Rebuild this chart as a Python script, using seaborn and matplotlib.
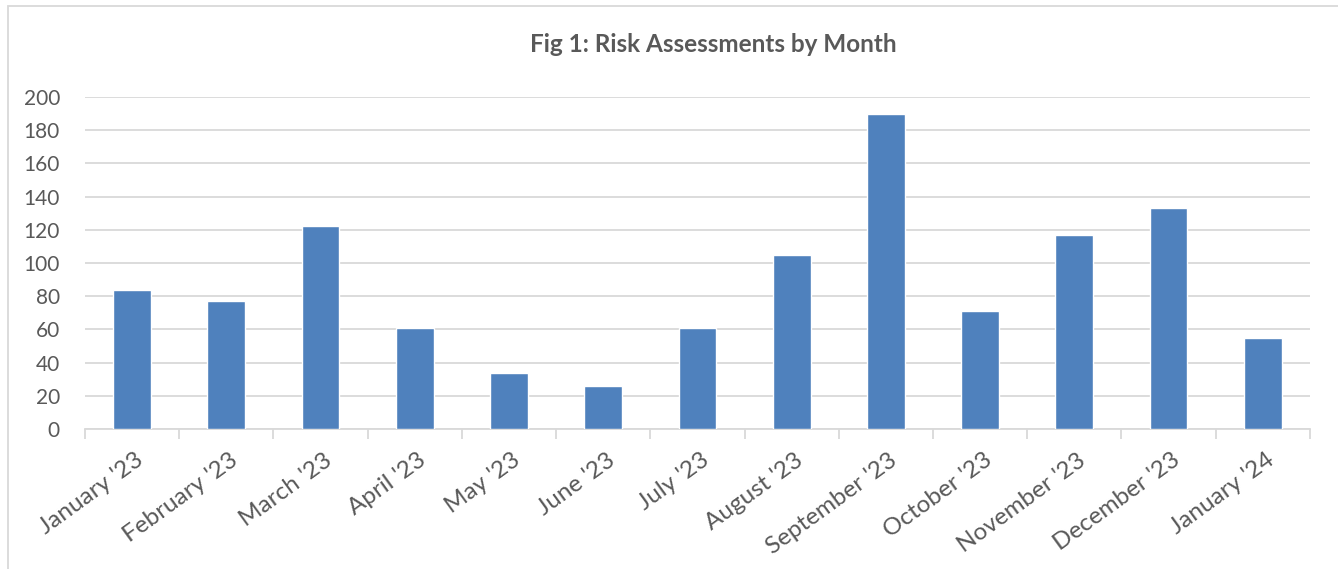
import matplotlib
matplotlib.use("Agg")
import matplotlib.pyplot as plt
import matplotlib.transforms as mtransforms
from matplotlib.patches import Rectangle
import seaborn as sns
import pandas as pd

# data
months = ["January '23", "February '23", "March '23", "April '23", "May '23",
          "June '23", "July '23", "August '23", "September '23", "October '23",
          "November '23", "December '23", "January '24"]
assessments = [84, 77, 122, 61, 34, 26, 61, 105, 190, 71, 117, 133, 55]
y_ticks = [0, 20, 40, 60, 80, 100, 120, 140, 160, 180, 200]

df = pd.DataFrame({"month": months, "assessments": assessments})

sns.set_theme(style="white")
plt.rcParams["font.family"] = ["Lato", "DejaVu Sans"]

text_col = "#595959"
grid_col = "#d9d9d9"

fig = plt.figure(figsize=(13.38, 5.69), dpi=100)
ax = fig.add_axes([0.0635, 0.246, 0.9155, 0.5835])

sns.barplot(data=df, x="month", y="assessments", color="#4f81bd",
            width=0.4, saturation=1, ax=ax, zorder=3)

ax.set_ylim(0, 200)
ax.set_xlim(-0.5, len(months) - 0.5)
ax.set_yticks(y_ticks)
ax.yaxis.grid(True, color=grid_col, linewidth=1.3, zorder=0)
ax.set_axisbelow(True)
ax.set_xlabel("")
ax.set_ylabel("")

for s in ["top", "right", "left"]:
    ax.spines[s].set_visible(False)
ax.spines["bottom"].set_color(grid_col)
ax.spines["bottom"].set_linewidth(1.3)

# tick marks between categories, labels at bar centres
ax.set_xticks([i - 0.5 for i in range(len(months) + 1)], minor=True)
ax.tick_params(axis="x", which="minor", length=7, width=1.3, color=grid_col,
               direction="out", bottom=True)
ax.tick_params(axis="x", which="major", length=0, pad=6)
ax.tick_params(axis="y", length=0, pad=18, labelsize=15, labelcolor=text_col)
ax.set_xticks(range(len(months)))
ax.set_xticklabels(months, rotation=36, ha="right", va="top",
                   rotation_mode="anchor", fontsize=17.5, color=text_col)
offset = mtransforms.ScaledTranslation(0.03, -0.12, fig.dpi_scale_trans)
for lbl in ax.get_xticklabels():
    lbl.set_transform(lbl.get_transform() + offset)

fig.text(0.533, 0.921, "Fig 1: Risk Assessments by Month", ha="center",
         va="center", fontsize=17.5, fontweight="bold", color=text_col)

# chart area border
fig.patches.append(Rectangle((0.006, -0.05), 1.1, 1.04, transform=fig.transFigure,
                             fill=False, edgecolor=grid_col, linewidth=1.3))

fig.savefig("out.png", dpi=100)
